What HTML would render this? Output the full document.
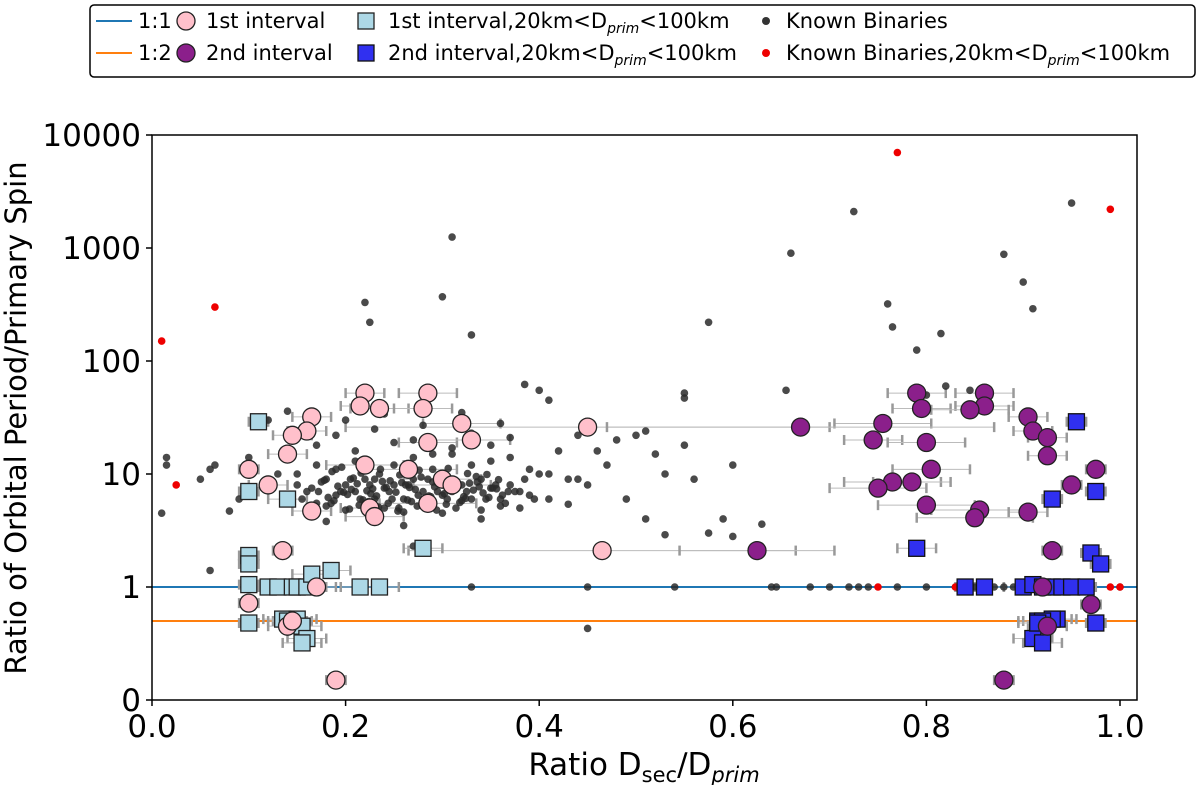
<!DOCTYPE html>
<html><head><meta charset="utf-8">
<style>
body{margin:0;background:#fff;}
svg{display:block;font-family:"DejaVu Sans","Liberation Sans",sans-serif;}
</style></head>
<body>
<svg id="chart" width="1200" height="785" viewBox="0 0 1200 785" xmlns="http://www.w3.org/2000/svg">
<g id="plot"></g>
<g id="axes"></g>
</svg>
<script>
// ---- data ----
const xTicks=[0,0.2,0.4,0.6,0.8,1.0];
const xTickLabels=["0.0","0.2","0.4","0.6","0.8","1.0"];
const yTicks=[10000,1000,100,10,1,0.1];
const yTickLabels=["10000","1000","100","10","1","0"];
const pinkX=[0.22,0.285,0.215,0.235,0.28,0.32,0.45,0.165,0.16,0.145,0.14,0.285,0.33,0.1,0.12,0.22,0.265,0.3,0.31,0.225,0.165,0.23,0.285,0.135,0.465,0.17,0.1,0.14,0.145,0.19];
const pinkY=[52,52,40,38,38,28,26,32,24,22,15,19,20,11,8,12,11,9,8,5,4.7,4.2,5.5,2.1,2.1,1,0.72,0.45,0.5,0.15];
const pinkErr=[0.02,0.03,0.02,0.03,0.03,0.04,0.25,0.02,0.02,0.02,0.02,0.03,0.04,0.01,0.02,0.04,0.05,0.04,0.04,0.03,0.02,0.03,0.05,0.01,0.2,0.02,0.01,0.02,0.02,0.01];
const purpleX=[0.79,0.86,0.86,0.795,0.845,0.755,0.67,0.905,0.91,0.925,0.745,0.8,0.925,0.975,0.805,0.765,0.785,0.75,0.95,0.8,0.855,0.905,0.85,0.625,0.93,0.92,0.97,0.925,0.88];
const purpleY=[52,52,40,38,37,28,26,32,24,21,20,19,14.5,11,11,8.5,8.5,7.5,8,5.3,4.8,4.6,4.1,2.1,2.1,1,0.7,0.45,0.15];
const purpleErr=[0.03,0.03,0.03,0.03,0.04,0.05,0.2,0.02,0.02,0.02,0.03,0.04,0.02,0.01,0.04,0.05,0.04,0.05,0.01,0.05,0.05,0.02,0.06,0.08,0.01,0.02,0.01,0.02,0.01];
const lbX=[0.11,0.1,0.14,0.1,0.1,0.28,0.1,0.12,0.13,0.145,0.15,0.16,0.165,0.185,0.215,0.235,0.1,0.135,0.14,0.15,0.155,0.16,0.155];
const lbY=[29,7,6,1.9,1.6,2.2,1.05,1,1,1,1,1,1.3,1.4,1,1,0.48,0.52,0.5,0.52,0.45,0.35,0.32];
const lbErr=[0.01,0.01,0.02,0.01,0.01,0.02,0.01,0.02,0.02,0.02,0.02,0.02,0.02,0.02,0.02,0.02,0.01,0.02,0.02,0.02,0.02,0.02,0.02];
const bX=[0.955,0.975,0.93,0.97,0.98,0.79,0.84,0.86,0.9,0.91,0.92,0.93,0.94,0.95,0.965,0.975,0.915,0.935,0.93,0.92,0.91,0.92,0.915];
const bY=[29,7,6,2,1.6,2.2,1,1,1,1.05,1,1,1,1,1,0.48,0.5,0.52,0.52,0.5,0.35,0.32,0.48];
const bErr=[0.01,0.01,0.01,0.01,0.01,0.02,0.01,0.02,0.02,0.01,0.02,0.02,0.02,0.02,0.01,0.01,0.02,0.02,0.02,0.02,0.02,0.02,0.02];
const redX=[0.01,0.065,0.025,0.77,0.99,0.86,0.83,0.75,0.99,1.0];
const redY=[150,300,8,7000,2200,1,1,1,1,1];
const blackX=[0.01,0.015,0.015,0.05,0.06,0.065,0.06,0.22,0.225,0.3,0.31,0.33,0.385,0.4,0.41,0.45,0.55,0.55,0.575,0.575,0.6,0.63,0.66,0.655,0.725,0.76,0.765,0.79,0.8,0.815,0.82,0.845,0.88,0.9,0.91,0.95,
0.52,0.5,0.48,0.46,0.47,0.53,0.56,0.51,0.49,0.45,0.59,0.53,0.41,0.43,0.44,0.51,0.55,0.6,
0.33,0.45,0.54,0.64,0.645,0.68,0.7,0.72,0.73,0.74,0.77,0.8,0.83,0.85,0.87,0.88,0.89,0.9,0.93,0.95,0.97,1.0,
0.08,0.09,0.12,0.13,0.14,0.15,0.16,0.17,0.18,0.19,0.2,0.21,0.22,0.23,0.24,0.25,0.26,0.27,0.28,0.29,0.3,0.31,0.32,0.33,0.34,0.35,0.36,0.37,0.38,0.39,
0.155,0.165,0.175,0.185,0.195,0.205,0.215,0.225,0.235,0.245,0.255,0.265,0.275,0.285,0.295,0.305,0.315,0.325,0.335,0.345,0.355,0.365,0.375,0.385,0.395,
0.15,0.17,0.19,0.21,0.23,0.25,0.27,0.29,0.31,0.33,0.35,0.37,0.39,0.4,0.42,0.44,
0.16,0.18,0.2,0.22,0.24,0.26,0.28,0.3,0.32,0.34,0.36,0.38,0.41,0.43,
0.17,0.19,0.21,0.23,0.25,0.27,0.29,0.31,0.33,0.35,0.37,0.2,0.24,0.28,0.32,0.36,0.18,0.26,0.34,0.14,0.12,0.1,0.27,
0.172,0.182,0.192,0.202,0.212,0.222,0.232,0.242,0.252,0.262,0.272,0.282,0.292,0.302,0.312,0.322,0.332,0.342,0.352,0.362,
0.178,0.188,0.198,0.208,0.218,0.228,0.238,0.248,0.258,0.268,0.278,0.288,0.298,0.308,0.318,0.328,0.338,0.348,0.358,0.368,
0.186,0.196,0.206,0.216,0.226,0.236,0.246,0.256,0.266,0.276,0.286,0.296,0.306,0.316,0.326,0.336,0.346,0.356,
0.204,0.214,0.224,0.234,0.244,0.254,0.264,0.274,0.284,0.294,0.304,0.314,0.324];
const blackY=[4.5,14,12,9,11,12,1.4,330,220,370,1250,170,62,55,45,0.43,52,47,220,3,2.8,3.6,900,55,2100,320,200,125,50,175,60,55,880,500,290,2500,
15,22,20,16,12,10,9,4,6,8,4,2.9,10,9,22,24,18,12,
1,1,1,1,1,1,1,1,1,1,1,1,1,1,1,1,1,1,1,1,1,1,
4.7,6,9,10,6,8,7,5.5,9,6.5,8,7,9,6,7.5,8,6,9,7,8.5,6.5,7,8,6,9,7.5,6,8,7,6.5,
6,7.5,8.5,5.5,7,9,6,8,10,7,5,8,6.5,9,7,6,8.5,7,9.5,6,8,5.5,7,9,6,
10,12,11,13,9,12,14,11,15,12,13,14,11,10,16,9,
5,5.2,4.8,5.5,5,4.6,5.2,4.5,5.8,4.8,5.2,5,6,5.4,
18,22,16,25,19,20,15,17,23,18,21,30,34,27,35,28,3.8,3.5,4,36,30,14,2.3,
7,6.2,7.8,6.6,8.2,7.1,6.4,7.6,6.9,8,7.3,6.1,7.7,6.7,7.9,6.3,7.2,6.8,7.5,6.5,
8.8,5.8,6.9,9.2,5.9,7.4,8.6,6,8.4,5.7,9.4,6.3,8.1,7.1,5.6,8.3,7.7,6.2,8.9,7,
10.5,11.5,7.3,10.2,6.7,11,8.7,9.8,7.6,10.8,6.4,9.6,11.2,7.8,10.1,8.5,9.9,7.4,
4.9,5.3,5.7,5.1,5.5,4.7,5.9,5.2,5.6,4.8,5.4,5,6.1];

// ---- axes ----
const L=152,R=1137,T=135,B=700;
const X0=152,XU=968;
function xs(v){return X0+v*XU;}
function ys(v){return 587-113*Math.log10(v);}
const NS="http://www.w3.org/2000/svg";
function mk(tag,attrs,parent,txt){const e=document.createElementNS(NS,tag);for(const k in attrs)e.setAttribute(k,attrs[k]);if(txt!==undefined)e.textContent=txt;parent.appendChild(e);return e;}
const plot=document.getElementById('plot'),axes=document.getElementById('axes');

function errbars(xa,ya,ea,g){
  xa.forEach((x,i)=>{const y=ys(ya[i]),a=xs(x-ea[i]),b=xs(x+ea[i]);
    const s=mk('g',{stroke:'#999','stroke-width':1.5},g);
    
    
    mk('line',{x1:a,y1:y,x2:b,y2:y,'stroke-width':1,stroke:'#bbb'},s);
    mk('line',{x1:a,y1:y-5,x2:a,y2:y+5,'stroke-width':2.5},s);
    mk('line',{x1:b,y1:y-5,x2:b,y2:y+5,'stroke-width':2.5},s);
  });
}
const l1=mk('line',{x1:L,y1:ys(1),x2:R,y2:ys(1),stroke:'#1f77b4','stroke-width':2},plot);

const l2=mk('line',{x1:L,y1:ys(0.5),x2:R,y2:ys(0.5),stroke:'#ff7f0e','stroke-width':2},plot);


errbars(pinkX,pinkY,pinkErr,plot);errbars(purpleX,purpleY,purpleErr,plot);
errbars(lbX,lbY,lbErr,plot);errbars(bX,bY,bErr,plot);

blackX.forEach((x,i)=>{const c=mk('circle',{cx:xs(x),cy:ys(blackY[i]),r:3.8,fill:'#2a2a2a','fill-opacity':0.85},plot);
  });
redX.forEach((x,i)=>{const c=mk('circle',{cx:xs(x),cy:ys(redY[i]),r:3.8,fill:'#e00'},plot);
  });
lbX.forEach((x,i)=>{const s=mk('rect',{x:xs(x)-8,y:ys(lbY[i])-8,width:16,height:16,fill:'#add8e6',stroke:'#222','stroke-width':1.3},plot);
  });
bX.forEach((x,i)=>{const s=mk('rect',{x:xs(x)-8,y:ys(bY[i])-8,width:16,height:16,fill:'#3030f0',stroke:'#111','stroke-width':1.3},plot);
  });
pinkX.forEach((x,i)=>{const c=mk('circle',{cx:xs(x),cy:ys(pinkY[i]),r:9,fill:'#ffc0cb',stroke:'#222','stroke-width':1.3},plot);
  });
purpleX.forEach((x,i)=>{const c=mk('circle',{cx:xs(x),cy:ys(purpleY[i]),r:9,fill:'#8b1f8b',stroke:'#222','stroke-width':1.3},plot);
  });

const fr=mk('rect',{x:L,y:T,width:R-L,height:B-T,fill:'none',stroke:'#000','stroke-width':1.5},axes);

xTicks.forEach((v,i)=>{const x=xs(v);mk('line',{x1:x,y1:B,x2:x,y2:B+6,stroke:'#000','stroke-width':1.5},axes);
  const t=mk('text',{x:x,y:B+37,'text-anchor':'middle','font-size':31},axes,xTickLabels[i]);
  });
yTicks.forEach((v,i)=>{const y=ys(v);mk('line',{x1:L-6,y1:y,x2:L,y2:y,stroke:'#000','stroke-width':1.5},axes);
  const t=mk('text',{x:L-11,y:y+11,'text-anchor':'end','font-size':31},axes,yTickLabels[i]);
  });
</script>
<svg style="position:absolute;left:0;top:0" width="1200" height="785">
<text x="644" y="775" text-anchor="middle" font-size="31" font-family="DejaVu Sans,sans-serif">Ratio D<tspan font-size="21" dy="7">sec</tspan><tspan dy="-7">/D</tspan><tspan font-size="21" dy="7" font-style="italic">prim</tspan></text>
<text transform="translate(26,418) rotate(-90)" text-anchor="middle" font-size="29" font-family="DejaVu Sans,sans-serif">Ratio of Orbital Period/Primary Spin</text>
<g font-family="DejaVu Sans,sans-serif" font-size="21">
<rect x="90" y="5" width="1105" height="72" rx="4" fill="#fff" stroke="#000" stroke-width="1.5"/>
<g><line x1="96" y1="21" x2="132" y2="21" stroke="#1f77b4" stroke-width="2"/><text x="138" y="28">1:1</text></g>
<g><line x1="96" y1="53" x2="132" y2="53" stroke="#ff7f0e" stroke-width="2"/><text x="138" y="60">1:2</text></g>
<g><circle cx="186" cy="21" r="9" fill="#ffc0cb" stroke="#222" stroke-width="1.3"/><text x="206" y="28">1st interval</text></g>
<g><circle cx="186" cy="53" r="9" fill="#8b1f8b" stroke="#222" stroke-width="1.3"/><text x="206" y="60">2nd interval</text></g>
<g><rect x="358" y="13" width="16" height="16" fill="#add8e6" stroke="#222" stroke-width="1.3"/><text x="388" y="28">1st interval,20km&lt;D<tspan font-size="14" dy="5" font-style="italic">prim</tspan><tspan dy="-5">&lt;100km</tspan></text></g>
<g><rect x="358" y="45" width="16" height="16" fill="#3030f0" stroke="#111" stroke-width="1.3"/><text x="388" y="60">2nd interval,20km&lt;D<tspan font-size="14" dy="5" font-style="italic">prim</tspan><tspan dy="-5">&lt;100km</tspan></text></g>
<g><circle cx="766" cy="21" r="4" fill="#333"/><text x="786" y="28">Known Binaries</text></g>
<g><circle cx="766" cy="53" r="4" fill="#e00"/><text x="786" y="60">Known Binaries,20km&lt;D<tspan font-size="14" dy="5" font-style="italic">prim</tspan><tspan dy="-5">&lt;100km</tspan></text></g>
</g>
</svg>
</body></html>
